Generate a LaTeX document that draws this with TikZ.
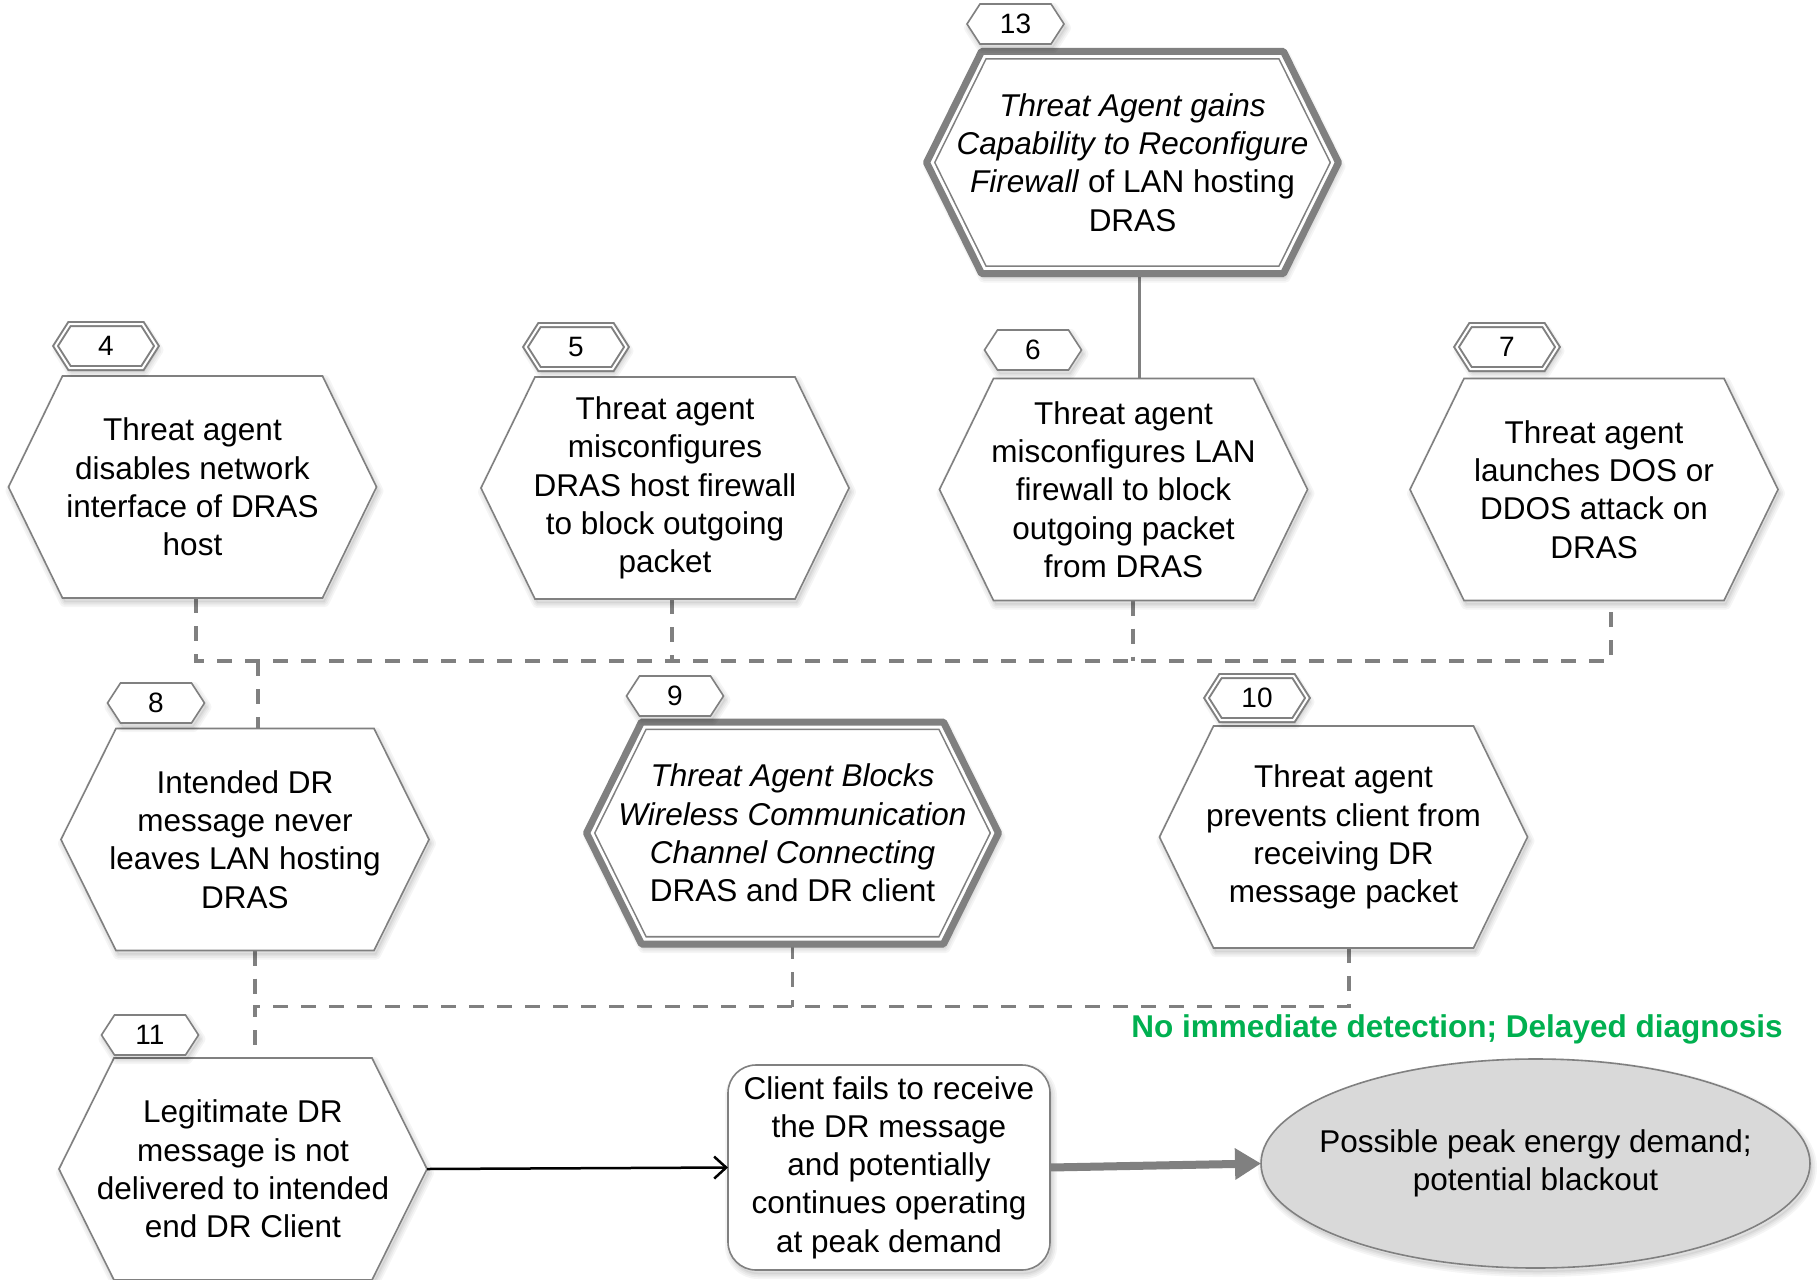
\documentclass[tikz,border=0pt]{standalone}
\usepackage{fontspec}
\setmainfont{Liberation Sans}
\usetikzlibrary{arrows.meta}
\definecolor{linegray}{HTML}{808080}
\definecolor{ovalgray}{HTML}{D9D9D9}
\definecolor{notegreen}{HTML}{00B050}
\pgfdeclarelayer{paper}
\pgfdeclarelayer{wires}
\pgfdeclarelayer{shapes}
\pgfsetlayers{paper,wires,shapes,main}

\newcommand\bodysize{\fontsize{31.5}{38.3}\selectfont}
\newcommand\tagsize{\fontsize{28}{32}\selectfont}

% soft drop shade under an outline given as a path style
\newcommand\dropshade[1]{%
  \begin{scope}[transform canvas={shift={(2pt,-4pt)}}]
    \foreach \w in {10,6.5,3} {\draw[black, opacity=0.04, line width=\w pt, line join=round, #1];}
    \fill[black, opacity=0.05, #1];
  \end{scope}}

\tikzset{
  hexpath/.style 2 args={insert path={(#1.west) -- ([xshift=#2]#1.north west) -- ([xshift=-#2]#1.north east) -- (#1.east) -- ([xshift=-#2]#1.south east) -- ([xshift=#2]#1.south west) -- cycle}},
  hexnode/.style={inner sep=0pt, outer sep=0pt, minimum width=368pt, minimum height=222pt, align=center, font=\bodysize},
  bighexnode/.style={hexnode, minimum width=412pt, minimum height=222pt},
  tagnode/.style={inner sep=0pt, outer sep=0pt, minimum width=97pt, minimum height=40pt, font=\tagsize},
  dtagnode/.style={tagnode, minimum width=101pt, minimum height=44pt},
  hexoutline/.style={draw=linegray, line width=1.6pt, fill=white},
  tagoutline/.style={draw=linegray, line width=1.6pt, fill=white},
  dtagoutline/.style={draw=linegray, line width=2pt, double=white, double distance=2pt, fill=white},
  dashline/.style={draw=linegray, line width=3.3pt, dash pattern=on 15pt off 13pt},
  boxpath/.style={insert path={[rounded corners=28pt] (fail.south west) rectangle (fail.north east)}},
  ovalpath/.style={insert path={(peak.center) ellipse [x radius=274.5pt, y radius=104.5pt]}},
}

\begin{document}
\begin{tikzpicture}[x=1pt, y=-1pt]
\begin{pgfonlayer}{paper}
  \fill[white] (0,0) rectangle (1819,1279);
\end{pgfonlayer}
\useasboundingbox (0,0) rectangle (1819,1279);

% event hexagons (text only; outlines are drawn on the shapes layer)
\node[bighexnode] (h13) at (1132.5,162.5) {\textit{Threat Agent gains}\\\textit{Capability to Reconfigure}\\\textit{Firewall} of LAN hosting\\DRAS};
\node[hexnode] (h4) at (192.5,487) {Threat agent\\disables network\\interface of DRAS\\host};
\node[hexnode] (h5) at (665,488) {Threat agent\\misconfigures\\DRAS host firewall\\to block outgoing\\packet};
\node[hexnode] (h6) at (1123.5,489.5) {Threat agent\\misconfigures LAN\\firewall to block\\outgoing packet\\from DRAS};
\node[hexnode] (h7) at (1594,489.5) {Threat agent\\launches DOS or\\DDOS attack on\\DRAS};
\node[hexnode] (h8) at (245,839.5) {Intended DR\\message never\\leaves LAN hosting\\DRAS};
\node[bighexnode] (h9) at (792.5,833) {\textit{Threat Agent Blocks}\\\textit{Wireless Communication}\\\textit{Channel Connecting}\\DRAS and DR client};
\node[hexnode] (h10) at (1343.5,837) {Threat agent\\prevents client from\\receiving DR\\message packet};
\node[hexnode] (h11) at (243,1169) {Legitimate DR\\message is not\\delivered to intended\\end DR Client};

% number tags
\node[tagnode] (t13) at (1015.5,24) {13};
\node[dtagnode] (t4) at (106,346) {4};
\node[dtagnode] (t5) at (576,347) {5};
\node[tagnode] (t6) at (1033,350) {6};
\node[dtagnode] (t7) at (1507,347) {7};
\node[tagnode] (t8) at (156,703) {8};
\node[tagnode] (t9) at (675,696) {9};
\node[dtagnode] (t10) at (1257,698) {10};
\node[tagnode] (t11) at (150,1035) {11};

% outcome boxes
\node[inner sep=0pt, outer sep=0pt, minimum width=322pt, minimum height=205pt, align=center, font=\bodysize] (fail) at (889,1167.5) {Client fails to receive\\the DR message\\and potentially\\continues operating\\at peak demand};
\node[inner sep=0pt, outer sep=0pt, minimum width=549pt, minimum height=209pt, align=center, font=\bodysize] (peak) at (1535.5,1163.5) {Possible peak energy demand;\\potential blackout};

\node[font=\bodysize\bfseries, text=notegreen, inner sep=0pt] (note) at (1457,1029) {No immediate detection; Delayed diagnosis};

% outlines
\begin{pgfonlayer}{shapes}
  \foreach \h/\a in {h4/54pt, h5/54pt, h6/54pt, h7/54pt, h8/55pt, h10/54pt, h11/55pt} {
    \dropshade{hexpath={\h}{\a}}
    \path[hexoutline, hexpath={\h}{\a}];
  }
  \foreach \h in {h13, h9} {
    \dropshade{hexpath={\h}{55pt}}
    \path[fill=white, hexpath={\h}{55pt}];
    \begin{scope}
      \clip[hexpath={\h}{55pt}];
      \draw[linegray, line width=1.6pt, double=white, double distance=13pt, line join=round, hexpath={\h}{55pt}];
    \end{scope}
    \draw[linegray, line width=7pt, line join=round, hexpath={\h}{55pt}];
  }
  \foreach \t in {t13, t6, t8, t9, t11} {
    \dropshade{hexpath={\t}{13pt}}
    \path[tagoutline, hexpath={\t}{13pt}];
  }
  \foreach \t in {t4, t5, t7, t10} {
    \dropshade{hexpath={\t}{14pt}}
    \path[dtagoutline, hexpath={\t}{14pt}];
  }
  \dropshade{boxpath}
  \path[draw=linegray, line width=1.6pt, fill=white, boxpath];
  \dropshade{ovalpath}
  \path[draw=linegray, line width=1.6pt, fill=ovalgray, ovalpath];
\end{pgfonlayer}

% connectors
\begin{pgfonlayer}{wires}
  \coordinate (v13) at ([xshift=6.5pt]h13.south);
  \draw[linegray, line width=3pt] (v13) -- (v13 |- h6.north);

  \coordinate (d4) at ([xshift=3.5pt]h4.south);
  \coordinate (d5) at ([xshift=7pt]h5.south);
  \coordinate (d6) at ([xshift=9.5pt]h6.south);
  \coordinate (d7) at ([xshift=17pt]h7.south);
  \coordinate (bus1) at ([yshift=-63pt]d4);
  \coordinate (u8) at ([xshift=13pt]h8.north);
  \draw[dashline] (d4) -- (bus1) -- (bus1 -| d7) -- (d7);
  \draw[dashline] (d5) -- (d5 |- bus1);
  \draw[dashline] (d6) -- (d6 |- bus1);
  \draw[dashline] (u8 |- bus1) -- (u8);

  \coordinate (d8) at ([xshift=10pt]h8.south);
  \coordinate (d9) at (h9.south);
  \coordinate (d10) at ([xshift=5.5pt]h10.south);
  \coordinate (bus2) at ([yshift=-56pt]d8);
  \draw[dashline] (d10) -- (d10 |- bus2) -- (bus2) -- (bus2 |- h11.north);
  \draw[dashline] (d8) -- (bus2);
  \draw[dashline] (d9) -- (d9 |- bus2);
\end{pgfonlayer}

\draw[line width=2.5pt, -{Straight Barb[length=12pt, width=22pt]}] (h11.east) -- (fail.west);
\draw[linegray, line width=8pt, -{Triangle[length=26pt, width=30pt]}] (fail.east) -- (peak.west);
\end{tikzpicture}
\end{document}
